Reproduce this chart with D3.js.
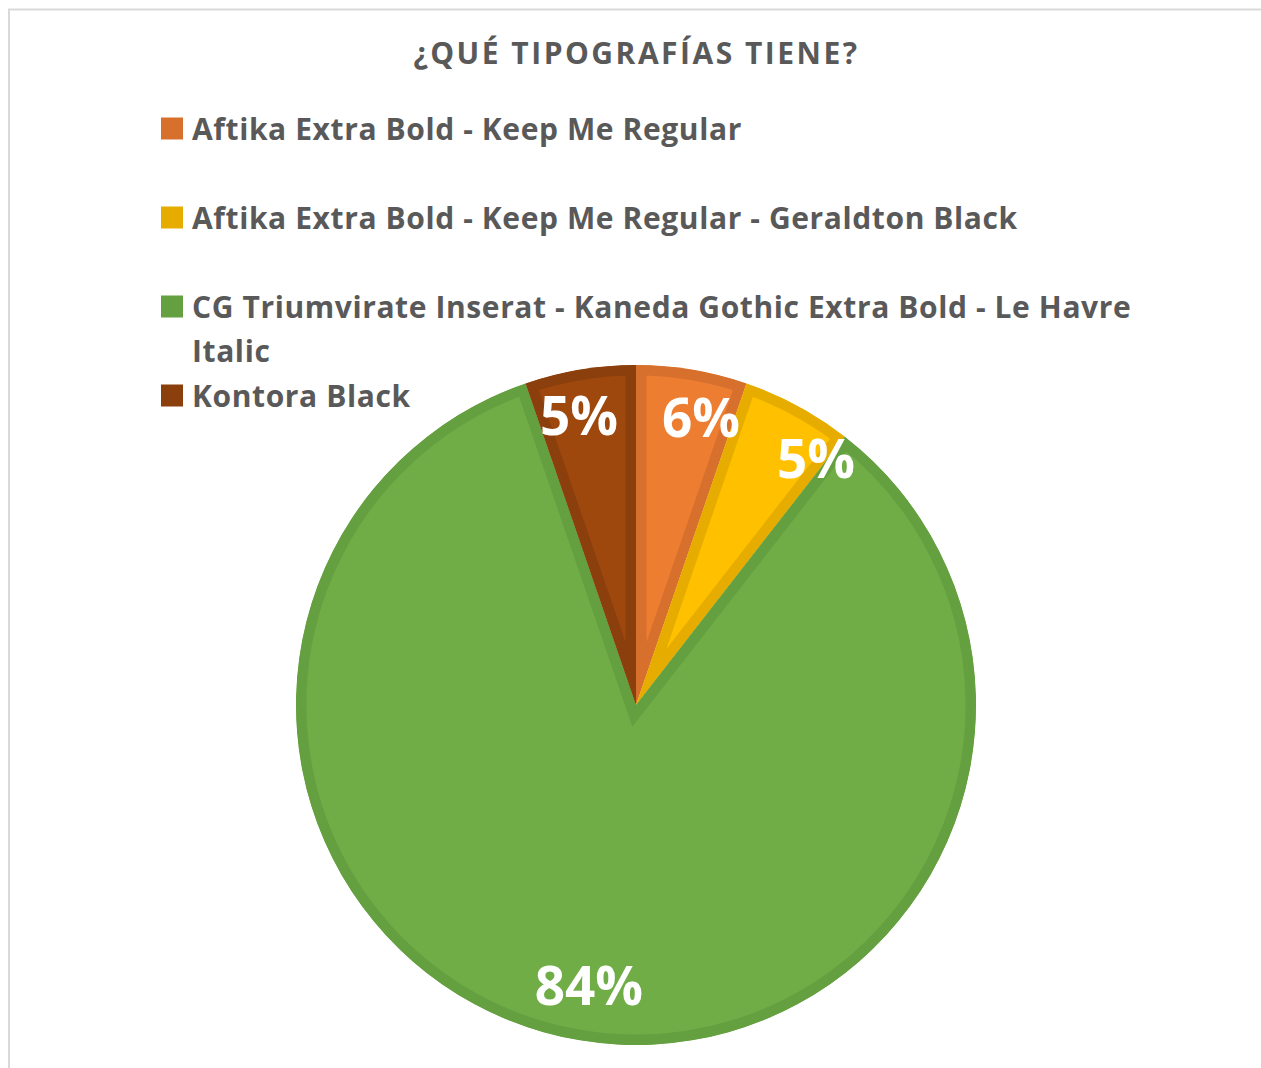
<!DOCTYPE html>
<html>
<head>
<meta charset="utf-8">
<script src="https://cdn.jsdelivr.net/npm/d3@7"></script>
<style>
html,body{margin:0;padding:0;background:#fff;}
svg{display:block;}
text{font-family:"Open Sans",sans-serif;}
</style>
</head>
<body>
<svg id="chart" width="1261" height="1068"></svg>
<script>
// ---- data ----
const title = "¿QUÉ TIPOGRAFÍAS TIENE?";
const categories = [
  "Aftika Extra Bold - Keep Me Regular",
  "Aftika Extra Bold - Keep Me Regular - Geraldton Black",
  "CG Triumvirate Inserat - Kaneda Gothic Extra Bold - Le Havre Italic",
  "Kontora Black"
];
const values = [1, 1, 16, 1];               // slice shares
const valueLabels = ["6%", "5%", "84%", "5%"]; // data label texts as shown
const fillColors = ["#ED7D31", "#FFC000", "#70AD47", "#9E480E"];
const edgeColors = ["#D7702D", "#E6AD00", "#65A040", "#8B3F0C"];

// ---- layout ----
const W = 1261, H = 1068;
const cx = 636, cy = 705, R = 340;
const svg = d3.select("#chart");

svg.append("rect").attr("x", 9).attr("y", 9.5).attr("width", 1400).attr("height", 1200)
  .attr("fill", "#fff").attr("stroke", "#D9D9D9").attr("stroke-width", 2);

svg.append("text").attr("x", 636.5).attr("y", 64).attr("text-anchor", "middle")
  .attr("font-size", 30).attr("font-weight", 700).attr("fill", "#595959")
  .attr("letter-spacing", 2.5).text(title);

// legend
const legend = svg.append("g");
const lineH = 44.5;
let y = 139.5;
categories.forEach((c, i) => {
  const g = legend.append("g");
  g.append("rect").attr("x", 161).attr("y", y - 22).attr("width", 22).attr("height", 22)
    .attr("fill", edgeColors[i]);
  const t = g.append("text").attr("x", 192).attr("y", y).attr("font-size", 30)
    .attr("font-weight", 700).attr("fill", "#595959").attr("letter-spacing", 0.6);
  // word wrap
  const words = c.split(" ");
  let line = [], ts = t.append("tspan").attr("x", 192).attr("dy", 0), lines = 1;
  words.forEach(w => {
    line.push(w);
    ts.text(line.join(" "));
    if (ts.node().getComputedTextLength() > 960 && line.length > 1) {
      line.pop(); ts.text(line.join(" "));
      line = [w];
      ts = t.append("tspan").attr("x", 192).attr("dy", lineH).text(w);
      lines++;
    }
  });
  y += Math.max(lines, 2) * lineH;
});

// pie
const pie = d3.pie().sort(null).value(d => d).startAngle(0).endAngle(2 * Math.PI);
const arcs = pie(values);
const arc = d3.arc().innerRadius(0).outerRadius(R);
const defs = svg.append("defs");
const pg = svg.append("g").attr("transform", `translate(${cx},${cy})`);
arcs.forEach((a, i) => {
  defs.append("clipPath").attr("id", "clip" + i)
    .append("path").attr("d", arc(a));
  pg.append("path").attr("d", arc(a))
    .attr("fill", fillColors[i])
    .attr("stroke", edgeColors[i]).attr("stroke-width", 21)
    .attr("stroke-linejoin", "miter")
    .attr("clip-path", `url(#clip${i})`);
});

// labels
const labelArc = d3.arc().innerRadius(292).outerRadius(292);
const nudge = [[17, 0], [41, 9], [1, -9], [-9, -2]];
arcs.forEach((a, i) => {
  const [x, yy] = labelArc.centroid(a);
  pg.append("text")
    .attr("x", x + nudge[i][0]).attr("y", yy + nudge[i][1])
    .attr("text-anchor", "middle").attr("dominant-baseline", "central")
    .attr("font-size", 53).attr("font-weight", 700).attr("fill", "#fff")
    .text(valueLabels[i]);
});
</script>
</body>
</html>
